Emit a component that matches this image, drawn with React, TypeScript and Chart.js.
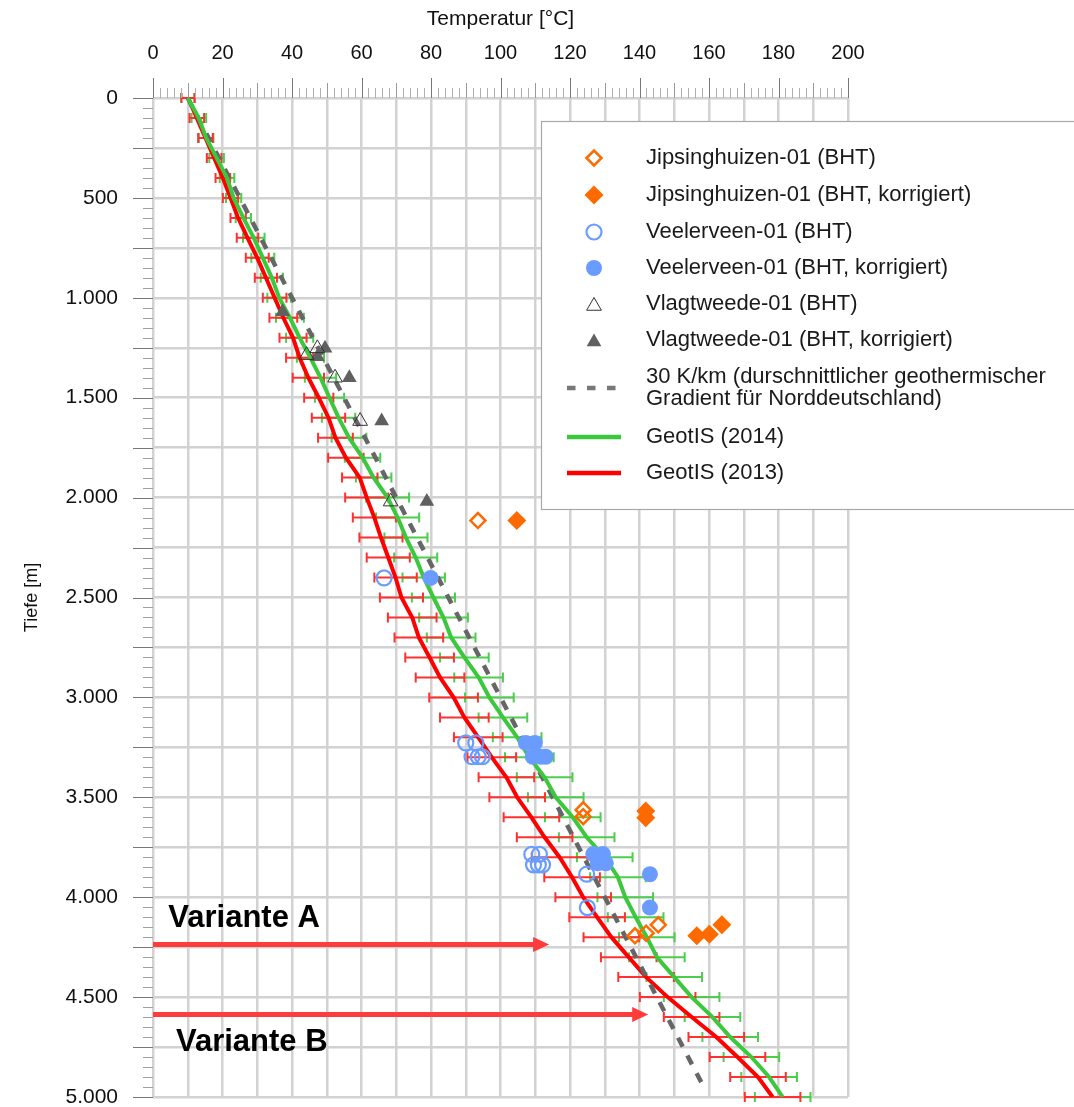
import React, { useEffect, useRef } from 'react';
import { Chart, registerables } from 'chart.js';

Chart.register(...registerables);

const FONT = "'Liberation Sans', Arial, Helvetica, sans-serif";

// Depth samples of the GeotIS profiles [m]
const depths = [
  0, 100, 200, 300, 400, 500, 600, 700, 800, 900,
  1000, 1100, 1200, 1300, 1400, 1500, 1600, 1700, 1800, 1900,
  2000, 2100, 2200, 2300, 2400, 2500, 2600, 2700, 2800, 2900,
  3000, 3100, 3200, 3300, 3400, 3500, 3600, 3700, 3800, 3900,
  4000, 4100, 4200, 4300, 4400, 4500, 4600, 4700, 4800, 4900, 5000,
];

// GeotIS (2014) temperature [°C]
const geotis2014 = [
  10.0, 13.2, 15.3, 18.3, 21.3, 23.2, 26.0, 29.0, 31.6, 34.2,
  36.3, 39.4, 42.2, 45.3, 48.2, 50.8, 53.4, 56.4, 60.3, 63.5,
  67.5, 70.4, 72.8, 75.6, 77.9, 80.7, 83.6, 85.8, 89.6, 93.7,
  96.8, 100.7, 104.8, 108.3, 112.7, 115.9, 120.8, 124.8, 130.0, 133.8,
  135.9, 138.9, 142.1, 145.0, 150.0, 155.0, 161.0, 166.1, 172.2, 177.3, 181.2,
];
// GeotIS (2013) temperature [°C]
const geotis2013 = [
  10.1, 12.6, 15.1, 17.6, 20.1, 22.3, 24.5, 27.2, 30.0, 32.5,
  35.0, 37.5, 40.3, 42.2, 44.7, 47.7, 50.5, 52.5, 55.5, 59.5,
  61.5, 63.7, 65.6, 67.7, 69.8, 71.5, 74.6, 76.5, 79.6, 82.6,
  86.5, 89.6, 93.6, 97.5, 101.7, 104.8, 108.9, 112.7, 117.0, 120.6,
  123.8, 127.8, 131.9, 136.9, 141.9, 148.1, 155.0, 162.1, 168.2, 174.1, 178.3,
];
// half widths of the error bars [K]
const err2014 = [
  1.9, 2.1, 2.1, 2.1, 2.1, 2.2, 2.2, 3.1, 3.3, 3.2,
  3.4, 4.0, 3.9, 3.9, 4.5, 4.2, 4.8, 5.0, 5.1, 5.1,
  6.2, 6.2, 6.2, 6.2, 6.1, 6.2, 7.0, 7.0, 7.0, 7.0,
  7.0, 7.0, 7.0, 7.0, 8.0, 8.0, 8.0, 8.0, 8.0, 8.0,
  8.0, 8.0, 8.0, 8.0, 8.0, 8.0, 8.0, 8.0, 8.0, 8.0, 8.0,
];
const err2013 = [
  1.9, 2.1, 2.1, 2.1, 2.1, 2.2, 2.2, 3.1, 3.3, 3.2,
  3.4, 4.0, 3.9, 3.9, 4.5, 4.2, 4.8, 5.0, 5.1, 5.1,
  6.2, 6.2, 6.2, 6.2, 6.1, 6.2, 7.0, 7.0, 7.0, 7.0,
  7.0, 7.0, 7.0, 7.0, 8.0, 8.0, 8.0, 8.0, 8.0, 8.0,
  8.0, 8.0, 8.0, 8.0, 8.0, 8.0, 8.0, 8.0, 8.0, 8.0, 8.0,
];

// 30 K/km gradient line
const gradDepths = [0, 4950];
const gradTemps = [10, 158.5];

// Jipsinghuizen-01
const jipsBhtT = [93.5, 123.8, 123.8, 138.7, 141.9, 145.4];
const jipsBhtD = [2115, 3563, 3597, 4193, 4180, 4138];
const jipsKorrT = [104.7, 141.8, 141.8, 156.5, 160.1, 163.7];
const jipsKorrD = [2115, 3568, 3602, 4193, 4185, 4138];

// Veelerveen-01
const veelBhtT = [66.5, 90.0, 92.9, 91.8, 93.6, 94.8, 109.0, 111.2, 109.5, 110.9, 112.1, 124.8, 125.0];
const veelBhtD = [2402, 3228, 3228, 3297, 3297, 3297, 3785, 3785, 3838, 3838, 3838, 3885, 4052];
const veelKorrT = [79.9, 107.3, 109.9, 109.3, 111.6, 113.0, 126.7, 129.5, 128.0, 130.3, 143.0, 143.0];
const veelKorrD = [2402, 3228, 3228, 3297, 3297, 3297, 3784, 3784, 3830, 3830, 3885, 4052];

// Vlagtweede-01
const vlagBhtT = [44.2, 47.3, 52.4, 59.6, 68.4];
const vlagBhtD = [1287, 1253, 1400, 1617, 2020];
const vlagKorrT = [37.3, 47.3, 49.5, 56.5, 65.8, 78.8];
const vlagKorrD = [1070, 1295, 1253, 1400, 1617, 2020];

// Variants (annotations)
const variantLabels = ['Variante A', 'Variante B'];
const variantDepths = [4237, 4587];
const variantArrowTemps = [114.0, 142.5];
const variantTextT = [4.4, 6.6];
const variantTextD = [4150, 4768];

const legendLabels = [
  ['Jipsinghuizen-01 (BHT)'],
  ['Jipsinghuizen-01 (BHT, korrigiert)'],
  ['Veelerveen-01 (BHT)'],
  ['Veelerveen-01 (BHT, korrigiert)'],
  ['Vlagtweede-01 (BHT)'],
  ['Vlagtweede-01 (BHT, korrigiert)'],
  ['30 K/km (durschnittlicher geothermischer', 'Gradient für Norddeutschland)'],
  ['GeotIS (2014)'],
  ['GeotIS (2013)'],
];

const ORANGE = '#ff6a00';
const BLUE = '#6a9cff';
const GREYTRI = '#606060';
const GREEN = '#3cc83c';
const RED = '#ff0000';
const DASH = '#666666';

const pts = (t: number[], d: number[]) => t.map((v, i) => ({ x: v, y: d[i] }));

function fmtDepth(v: number) {
  const s = String(Math.round(v));
  return s.replace(/\B(?=(\d{3})+(?!\d))/g, '.');
}

const errorBarPlugin = {
  id: 'errorBars',
  beforeDatasetsDraw(chart: any) {
    const { ctx, scales } = chart;
    const xs = scales.x;
    const ys = scales.y;
    const draw = (vals: number[], errs: number[], color: string) => {
      ctx.save();
      ctx.strokeStyle = color;
      ctx.lineWidth = 2;
      for (let i = 0; i < depths.length; i++) {
        const py = ys.getPixelForValue(depths[i]);
        const x1 = xs.getPixelForValue(vals[i] - errs[i]);
        const x2 = xs.getPixelForValue(vals[i] + errs[i]);
        ctx.beginPath();
        ctx.moveTo(x1, py);
        ctx.lineTo(x2, py);
        ctx.moveTo(x1, py - 5);
        ctx.lineTo(x1, py + 5);
        ctx.moveTo(x2, py - 5);
        ctx.lineTo(x2, py + 5);
        ctx.stroke();
      }
      ctx.restore();
    };
    draw(geotis2014, err2014, '#4ccd4c');
    draw(geotis2013, err2013, '#ff3030');
  },
};

const tickMarksPlugin = {
  id: 'tickMarks',
  afterDraw(chart: any) {
    const { ctx, scales, chartArea } = chart;
    const xs = scales.x;
    const ys = scales.y;
    ctx.save();
    ctx.lineWidth = 1;
    for (let t = 0; t <= 200; t += 2) {
      const px = Math.round(xs.getPixelForValue(t)) + 0.5;
      let len = 10;
      let col = '#b0b0b0';
      if (t % 20 === 0) { len = 20; col = '#777'; } else if (t % 10 === 0) { len = 15; col = '#999'; }
      ctx.strokeStyle = col;
      ctx.beginPath();
      ctx.moveTo(px, chartArea.top);
      ctx.lineTo(px, chartArea.top - len);
      ctx.stroke();
    }
    for (let d = 0; d <= 5000; d += 50) {
      const py = Math.round(ys.getPixelForValue(d)) + 0.5;
      let len = 10;
      let col = '#a0a0a0';
      if (d % 250 === 0) { len = 20; col = '#777'; }
      ctx.strokeStyle = col;
      ctx.beginPath();
      ctx.moveTo(chartArea.left, py);
      ctx.lineTo(chartArea.left - len, py);
      ctx.stroke();
    }
    ctx.restore();
  },
};

function diamond(ctx: any, x: number, y: number, r: number) {
  ctx.beginPath();
  ctx.moveTo(x - r, y);
  ctx.lineTo(x, y - r);
  ctx.lineTo(x + r, y);
  ctx.lineTo(x, y + r);
  ctx.closePath();
}
function triangle(ctx: any, x: number, y: number, r: number) {
  ctx.beginPath();
  for (let k = 0; k < 3; k++) {
    const a = (k * 2 * Math.PI) / 3;
    const px = x + Math.sin(a) * r;
    const py = y - Math.cos(a) * r;
    if (k === 0) ctx.moveTo(px, py); else ctx.lineTo(px, py);
  }
  ctx.closePath();
}

const annotationPlugin = {
  id: 'variants',
  afterDatasetsDraw(chart: any) {
    const { ctx, scales } = chart;
    const xs = scales.x;
    const ys = scales.y;
    ctx.save();
    for (let i = 0; i < variantLabels.length; i++) {
      const py = ys.getPixelForValue(variantDepths[i]);
      const x0 = xs.getPixelForValue(0);
      const xt = xs.getPixelForValue(variantArrowTemps[i]);
      ctx.strokeStyle = '#ff3c3c';
      ctx.fillStyle = '#ff3c3c';
      ctx.lineWidth = 5;
      ctx.beginPath();
      ctx.moveTo(x0, py);
      ctx.lineTo(xt - 12, py);
      ctx.stroke();
      ctx.beginPath();
      ctx.moveTo(xt, py);
      ctx.lineTo(xt - 16, py - 7.5);
      ctx.lineTo(xt - 16, py + 7.5);
      ctx.closePath();
      ctx.fill();
      ctx.fillStyle = '#000';
      ctx.font = 'bold 31px ' + FONT;
      ctx.textBaseline = 'alphabetic';
      ctx.textAlign = 'left';
      ctx.fillText(variantLabels[i], xs.getPixelForValue(variantTextT[i]), ys.getPixelForValue(variantTextD[i]));
    }
    ctx.restore();
  },
};

const legendPlugin = {
  id: 'customLegend',
  afterDraw(chart: any) {
    const { ctx } = chart;
    ctx.save();
    ctx.fillStyle = '#fff';
    ctx.fillRect(541.5, 121.5, 600, 388);
    ctx.strokeStyle = '#a8a8a8';
    ctx.lineWidth = 1.2;
    ctx.strokeRect(541.5, 121.5, 600, 388);

    const mx = 594;
    const tx = 646;
    const rows = [158, 195, 232, 268, 304, 340, 388, 437, 473];
    // markers
    ctx.lineWidth = 2.5;
    ctx.strokeStyle = ORANGE;
    diamond(ctx, mx, rows[0], 7.5);
    ctx.stroke();
    ctx.fillStyle = ORANGE;
    diamond(ctx, mx, rows[1], 9.5);
    ctx.fill();
    ctx.strokeStyle = BLUE;
    ctx.lineWidth = 2.2;
    ctx.beginPath();
    ctx.arc(mx, rows[2], 7.5, 0, Math.PI * 2);
    ctx.stroke();
    ctx.fillStyle = BLUE;
    ctx.beginPath();
    ctx.arc(mx, rows[3], 8, 0, Math.PI * 2);
    ctx.fill();
    ctx.strokeStyle = '#333';
    ctx.lineWidth = 1;
    triangle(ctx, mx, rows[4] + 2, 8.5);
    ctx.stroke();
    ctx.fillStyle = GREYTRI;
    triangle(ctx, mx, rows[5] + 2, 8.5);
    ctx.fill();
    // line samples
    ctx.lineWidth = 4.5;
    ctx.strokeStyle = '#777';
    ctx.setLineDash([8.5, 11.5]);
    ctx.beginPath();
    ctx.moveTo(567, rows[6]);
    ctx.lineTo(621, rows[6]);
    ctx.stroke();
    ctx.setLineDash([]);
    ctx.strokeStyle = GREEN;
    ctx.beginPath();
    ctx.moveTo(567, rows[7]);
    ctx.lineTo(621, rows[7]);
    ctx.stroke();
    ctx.strokeStyle = RED;
    ctx.beginPath();
    ctx.moveTo(567, rows[8]);
    ctx.lineTo(621, rows[8]);
    ctx.stroke();
    // labels
    ctx.fillStyle = '#1a1a1a';
    ctx.font = '22px ' + FONT;
    ctx.textBaseline = 'middle';
    ctx.textAlign = 'left';
    legendLabels.forEach((lines, i) => {
      const cy = rows[i];
      if (lines.length === 1) {
        ctx.fillText(lines[0], tx, cy);
      } else {
        ctx.fillText(lines[0], tx, cy - 11);
        ctx.fillText(lines[1], tx, cy + 11);
      }
    });
    ctx.restore();
  },
};

export default function App() {
  const ref = useRef<HTMLCanvasElement>(null);
  useEffect(() => {
    if (!ref.current) return;
    const chart = new Chart(ref.current, {
      type: 'scatter',
      data: {
        datasets: [
          {
            label: 'Jipsinghuizen-01 (BHT)',
            data: pts(jipsBhtT, jipsBhtD),
            pointStyle: 'rectRot',
            pointRadius: 7.5,
            borderColor: ORANGE,
            backgroundColor: 'rgba(255,255,255,0)',
            borderWidth: 2.5,
          },
          {
            label: 'Jipsinghuizen-01 (BHT, korrigiert)',
            data: pts(jipsKorrT, jipsKorrD),
            pointStyle: 'rectRot',
            pointRadius: 9.5,
            borderColor: ORANGE,
            backgroundColor: ORANGE,
            borderWidth: 0,
          },
          {
            label: 'Veelerveen-01 (BHT)',
            data: pts(veelBhtT, veelBhtD),
            pointStyle: 'circle',
            pointRadius: 7.5,
            borderColor: BLUE,
            backgroundColor: 'rgba(255,255,255,0)',
            borderWidth: 2.2,
          },
          {
            label: 'Veelerveen-01 (BHT, korrigiert)',
            data: pts(veelKorrT, veelKorrD),
            pointStyle: 'circle',
            pointRadius: 8,
            borderColor: BLUE,
            backgroundColor: BLUE,
            borderWidth: 0,
          },
          {
            label: 'Vlagtweede-01 (BHT)',
            data: pts(vlagBhtT, vlagBhtD),
            pointStyle: 'triangle',
            pointRadius: 8.5,
            borderColor: '#333',
            backgroundColor: 'rgba(255,255,255,0)',
            borderWidth: 1,
          },
          {
            label: 'Vlagtweede-01 (BHT, korrigiert)',
            data: pts(vlagKorrT, vlagKorrD),
            pointStyle: 'triangle',
            pointRadius: 8.5,
            borderColor: GREYTRI,
            backgroundColor: GREYTRI,
            borderWidth: 0,
          },
          {
            label: 'GeotIS (2014)',
            data: pts(geotis2014, depths),
            showLine: true,
            pointRadius: 0,
            borderColor: GREEN,
            backgroundColor: GREEN,
            borderWidth: 4,
            tension: 0,
          },
          {
            label: '30 K/km',
            data: pts(gradTemps, gradDepths),
            showLine: true,
            pointRadius: 0,
            borderColor: DASH,
            backgroundColor: DASH,
            borderWidth: 4.5,
            borderDash: [10, 10],
            tension: 0,
          },
          {
            label: 'GeotIS (2013)',
            data: pts(geotis2013, depths),
            showLine: true,
            pointRadius: 0,
            borderColor: RED,
            backgroundColor: RED,
            borderWidth: 4,
            tension: 0,
          },
        ],
      },
      options: {
        animation: false,
        responsive: false,
        devicePixelRatio: 1,
        events: [],
        layout: { padding: { left: 0, top: 0, right: 226, bottom: 9 } },
        plugins: {
          legend: { display: false },
          tooltip: { enabled: false },
          title: { display: false },
        },
        scales: {
          x: {
            type: 'linear',
            position: 'top',
            min: 0,
            max: 200,
            afterFit: (s: any) => {
              s.height = 98;
              s.paddingLeft = 0;
              s.paddingRight = 0;
              s.paddingTop = 0;
              s.paddingBottom = 0;
            },
            border: { display: false },
            grid: { color: '#d2d2d2', lineWidth: 2.5, drawTicks: false },
            ticks: {
              stepSize: 10,
              autoSkip: false,
              maxRotation: 0,
              padding: 32.5,
              color: '#111',
              font: { family: FONT, size: 20 },
              callback: (v: any) => (Number(v) % 20 === 0 ? String(v) : ''),
            },
            title: {
              display: true,
              text: 'Temperatur [°C]',
              color: '#111',
              font: { family: FONT, size: 21 },
              padding: { top: 6.5, bottom: 0 },
            },
          },
          y: {
            type: 'linear',
            position: 'left',
            reverse: true,
            min: 0,
            max: 5000,
            afterFit: (s: any) => {
              s.width = 153;
              s.paddingLeft = 0;
              s.paddingRight = 0;
              s.paddingTop = 0;
              s.paddingBottom = 0;
            },
            border: { display: false },
            grid: { color: '#d2d2d2', lineWidth: 2.5, drawTicks: false },
            ticks: {
              stepSize: 250,
              autoSkip: false,
              padding: 35,
              color: '#111',
              font: { family: FONT, size: 21 },
              callback: (v: any) => (Number(v) % 500 === 0 ? fmtDepth(Number(v)) : ''),
            },
            title: {
              display: true,
              text: 'Tiefe [m]',
              color: '#111',
              font: { family: FONT, size: 18 },
              padding: { top: 21, bottom: 0 },
            },
          },
        },
      },
      plugins: [errorBarPlugin, annotationPlugin, tickMarksPlugin, legendPlugin],
    } as any);
    return () => chart.destroy();
  }, []);
  return (
    <div style={{ position: 'fixed', left: 0, top: 0, width: 1074, height: 1107, background: '#fff' }}>
      <canvas ref={ref} width={1074} height={1107} style={{ display: 'block', width: 1074, height: 1107 }} />
    </div>
  );
}
